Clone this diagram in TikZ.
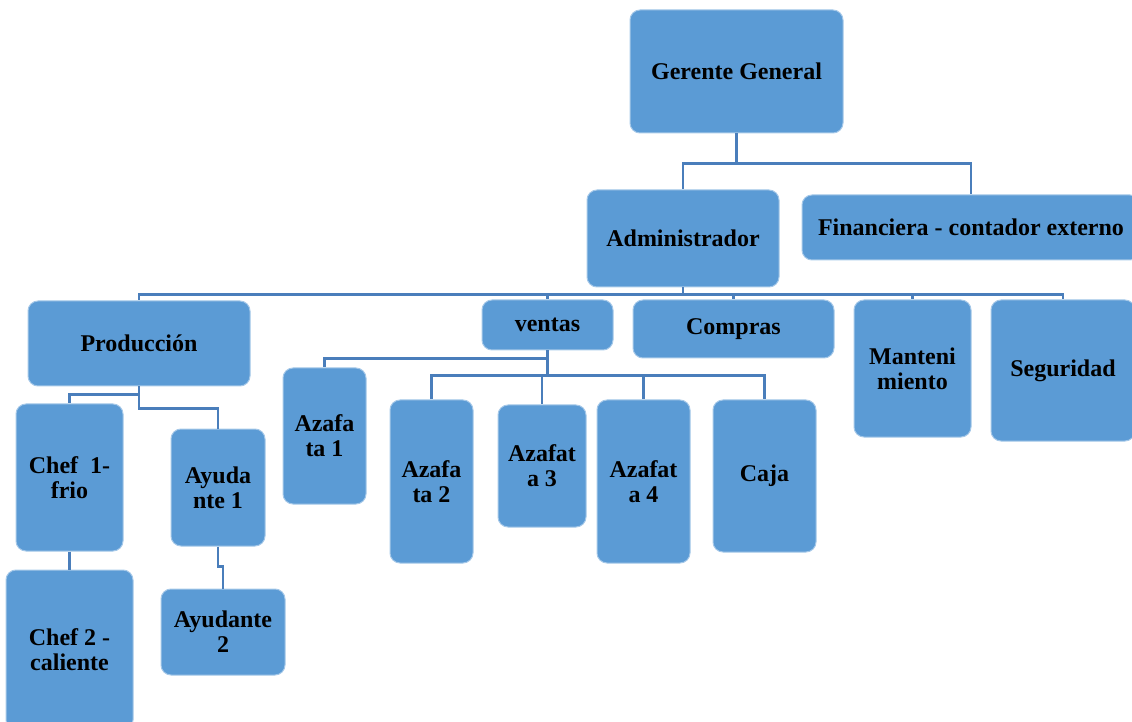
\documentclass[tikz,border=0pt]{standalone}
\usepackage{fontspec}
\setmainfont{Liberation Serif}
\definecolor{cajaazul}{HTML}{5B9BD5}
\definecolor{lineaazul}{HTML}{4A7EBB}
\begin{document}
\begin{tikzpicture}[x=0.5pt, y=-0.5pt, line join=miter,
  puesto/.style={draw=cajaazul!55!white, line width=0.5pt, fill=cajaazul, rounded corners=5pt, align=center, inner sep=0pt, font=\fontsize{12}{12.5}\selectfont\bfseries},
  enlace/.style={draw=lineaazul, line width=1.2pt}]
\useasboundingbox (0,0) rectangle (1132,722);
\foreach \n/\xa/\ya/\xb/\yb/\t in {gerente/630/10/843/133/{Gerente General},
  admin/587/190/779/287/{Administrador}, finan/802/195/1140/260/{Financiera - contador externo},
  prod/28/301/250/386/{Producción}, ventas/482/300/613/350/{ventas}, compras/633/300/834/358/{Compras},
  mant/854/300/971/437/{Manteni\\miento}, seg/991/300/1135/441/{Seguridad},
  az1/283/368/366/504/{Azafa\\ta 1}, az2/390/400/473/563/{Azafa\\ta 2}, az3/498/405/586/527/{Azafat\\a 3},
  az4/597/400/690/563/{Azafat\\a 4}, caja/713/400/816/552/{Caja},
  chefa/16/404/123/551/{Chef~~1-\\frio}, chefb/6/570/133/730/{Chef 2 -\\caliente},
  ayua/171/429/265/546/{Ayuda\\nte 1}, ayub/161/589/285/675/{Ayudante\\2}}
  \node[puesto, minimum width={(\xb-\xa)*0.5pt}, minimum height={(\yb-\ya)*0.5pt}] (\n) at ({(\xa+\xb)/2},{(\ya+\yb)/2}) {\t};
\draw[enlace] (gerente.south) -- ++(0,30) coordinate (nudoG) -| (admin.north);
\draw[enlace] (nudoG) -| (finan.north);
\draw[enlace] (admin.south) -- ++(0,7) coordinate (nudoA);
\foreach \h in {prod,ventas,compras,mant,seg} \draw[enlace] (nudoA) -| (\h.north);
\draw[enlace] (ventas.south) -- ++(0,8) -| (az1.north);
\draw[enlace] (ventas.south) -- ++(0,25) coordinate (nudoV);
\foreach \h in {az2,az3,az4,caja} \draw[enlace] (nudoV) -| (\h.north);
\draw[enlace] (prod.south) -- ++(0,8) -| (chefa.north);
\draw[enlace] (prod.south) -- ++(0,22) -| (ayua.north);
\draw[enlace] (chefa.south) -- (chefb.north);
\draw[enlace] (ayua.south) -- ++(0,20) -| (ayub.north);
\end{tikzpicture}
\end{document}
